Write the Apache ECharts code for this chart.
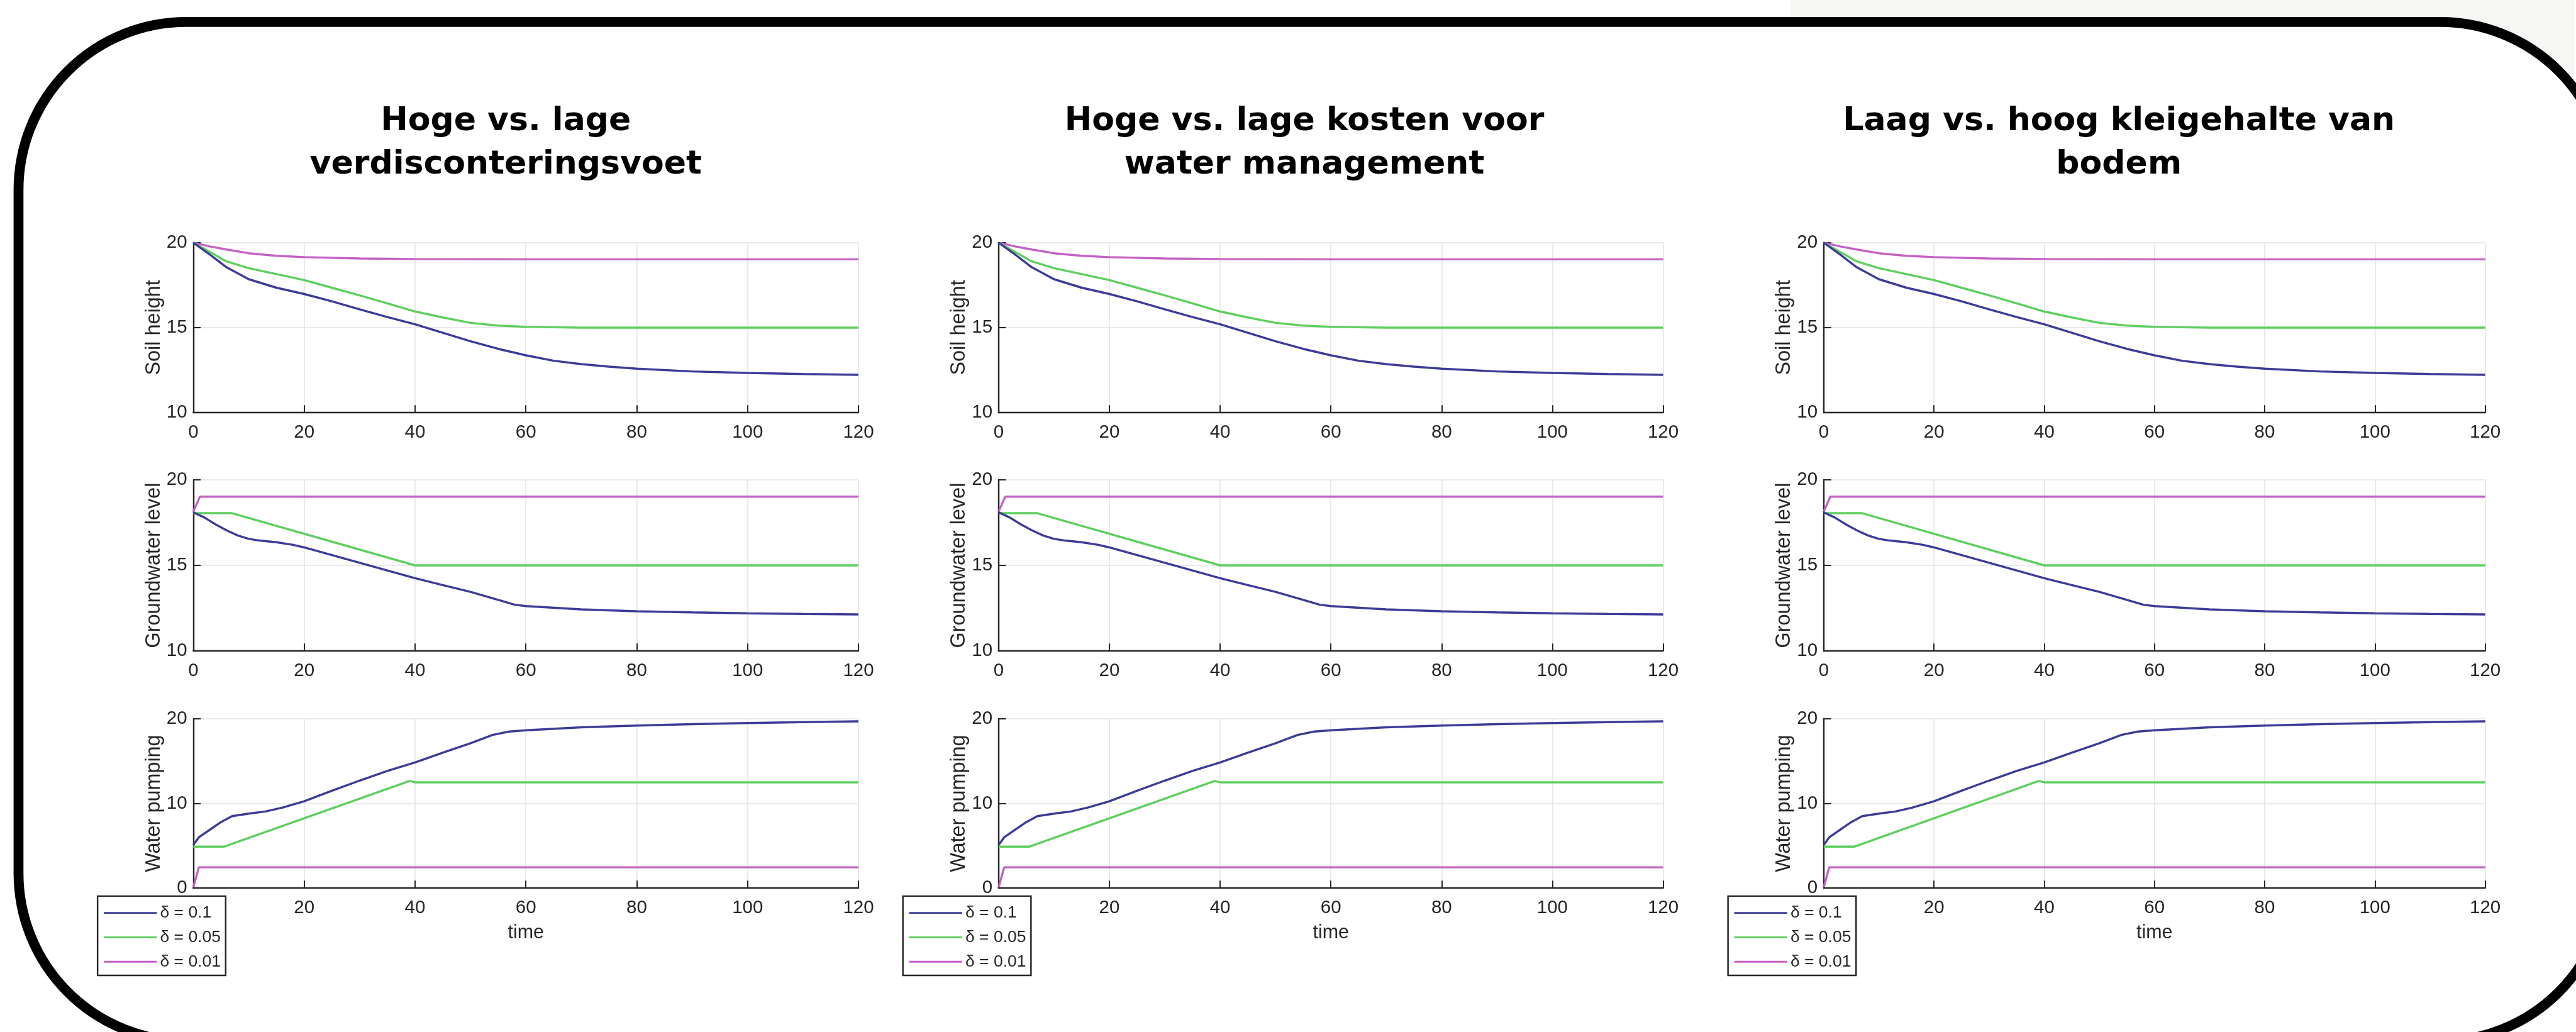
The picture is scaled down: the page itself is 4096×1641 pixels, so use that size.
<!DOCTYPE html>
<html>
<head>
<meta charset="utf-8">
<title>Bodemdaling scenario's</title>
<script src="https://cdn.jsdelivr.net/npm/echarts@6.0.0/dist/echarts.min.js"></script>
<style>
html, body { margin: 0; padding: 0; background: #fff; }
#echarts { width: 4096px; height: 1641px; }
</style>
</head>
<body>
<div id="echarts"></div>
<script>
// Namen van de reeksen (discontovoet)
var seriesNames = ['δ = 0.1', 'δ = 0.05', 'δ = 0.01'];
var seriesColors = ['#3c3c98', '#5fcf5f', '#c462c4'];

// Titels per paneel
var panelTitles = [
    'Hoge vs. lage\nverdisconteringsvoet',
    'Hoge vs. lage kosten voor\nwater management',
    'Laag vs. hoog kleigehalte van\nbodem'
];

// As-instellingen
var xTicks = [0, 120, 20];
var rowNames = ['Soil height', 'Groundwater level', 'Water pumping'];
var rowTicks = [[10, 20, 5], [10, 20, 5], [0, 20, 10]];

// Soil height [tijd, waarde]
var soilD01 = [[0, 20], [3, 19.3], [6, 18.55], [10, 17.85], [15, 17.35], [20, 16.98], [25, 16.55], [30, 16.08],
    [35, 15.62], [40, 15.2], [45, 14.7], [50, 14.2], [55, 13.75], [60, 13.37], [65, 13.05], [70, 12.85],
    [75, 12.7], [80, 12.58], [90, 12.42], [100, 12.33], [110, 12.27], [120, 12.22]];
var soilD005 = [[0, 20], [3, 19.45], [6, 18.9], [10, 18.5], [15, 18.15], [20, 17.8], [25, 17.35], [30, 16.9],
    [35, 16.43], [40, 15.95], [45, 15.6], [50, 15.28], [55, 15.12], [60, 15.05], [70, 15.0], [120, 15.0]];
var soilD001 = [[0, 20], [3, 19.78], [6, 19.6], [10, 19.38], [15, 19.23], [20, 19.15], [30, 19.07],
    [40, 19.04], [60, 19.02], [120, 19.02]];

// Groundwater level [tijd, waarde]
var gwD01 = [[0, 18.1], [2, 17.8], [4, 17.4], [6, 17.05], [8, 16.75], [10, 16.55], [12, 16.45], [15, 16.35],
    [18, 16.2], [20, 16.05], [25, 15.6], [30, 15.15], [35, 14.7], [40, 14.25], [45, 13.85], [50, 13.45],
    [55, 12.98], [58, 12.7], [60, 12.62], [70, 12.43], [80, 12.32], [90, 12.25], [100, 12.2], [110, 12.16], [120, 12.13]];
var gwD005 = [[0, 18.05], [7, 18.05], [40, 15.0], [120, 15.0]];
var gwD001 = [[0, 18.15], [1.2, 19.02], [120, 19.02]];

// Water pumping [tijd, waarde]
var pumpD01 = [[0, 5.1], [1, 6.0], [3, 6.9], [5, 7.8], [7, 8.5], [10, 8.8], [13, 9.05], [16, 9.5], [20, 10.25],
    [25, 11.5], [30, 12.7], [35, 13.85], [40, 14.85], [45, 16.0], [50, 17.12], [54, 18.1], [57, 18.5], [60, 18.65],
    [70, 19.0], [80, 19.2], [90, 19.37], [100, 19.5], [110, 19.62], [120, 19.7]];
var pumpD005 = [[0, 4.9], [5.6, 4.9], [39, 12.65], [40, 12.5], [120, 12.5]];
var pumpD001 = [[0, 0.1], [1, 2.45], [120, 2.45]];

var rowData = [
    [soilD01, soilD005, soilD001],
    [gwD01, gwD005, gwD001],
    [pumpD01, pumpD005, pumpD001]
];

// Inicializa o gráfico
var chart = echarts.init(document.getElementById('echarts'));

// alles op 0.982 van de referentie
var S = 0.982;
function px(v) { return v * S; }

var sans = "'Liberation Sans', Arial, sans-serif";
var ink = '#262626';

// plaats van de panelen (referentie-pixels)
var panels = [
    { left: 313, right: 1390, titleX: 819 },
    { left: 1617, right: 2693, titleX: 2112 },
    { left: 2953, right: 4024, titleX: 3431 }
];
var rows = [
    { top: 393, bottom: 668 },
    { top: 777, bottom: 1054 },
    { top: 1164, bottom: 1438 }
];

var grids = [], xAxes = [], yAxes = [], series = [], titles = [], legends = [];

panels.forEach(function (p, pi) {
    titles.push({
        text: panelTitles[pi],
        left: px(p.titleX),
        top: px(162),
        textAlign: 'center',
        padding: 0,
        textStyle: {
            fontFamily: "'DejaVu Sans', Verdana, sans-serif",
            fontWeight: 'bold',
            fontSize: px(53),
            lineHeight: px(70),
            color: '#000'
        }
    });

    legends.push({
        orient: 'vertical',
        left: px(p.left - 155),
        top: px(1451),
        data: seriesNames,
        icon: 'rect',
        itemWidth: px(86),
        itemHeight: px(3),
        itemGap: px(12),
        padding: [px(13.5), px(8), px(8.5), px(10)],
        backgroundColor: '#fff',
        borderColor: ink,
        borderWidth: px(2.5),
        borderRadius: 0,
        textStyle: { fontFamily: sans, fontSize: px(27), color: ink }
    });

    rows.forEach(function (r, ri) {
        var gi = grids.length;
        grids.push({
            left: px(p.left),
            top: px(r.top),
            width: px(p.right - p.left),
            height: px(r.bottom - r.top),
            containLabel: false,
            outerBoundsMode: 'none'
        });
        xAxes.push({
            type: 'value',
            gridIndex: gi,
            min: xTicks[0],
            max: xTicks[1],
            interval: xTicks[2],
            name: ri === 2 ? 'time' : '',
            nameLocation: 'middle',
            nameGap: px(58),
            nameTextStyle: { fontFamily: sans, fontSize: px(31), color: ink },
            axisLine: { show: true, onZero: false, lineStyle: { color: ink, width: px(2.5) } },
            axisTick: { show: true, inside: true, length: px(12), lineStyle: { color: ink, width: px(2) } },
            axisLabel: { margin: px(18), fontFamily: sans, fontSize: px(30), color: ink },
            splitLine: { show: true, lineStyle: { color: '#e3e3e3', width: px(1.6) } }
        });
        yAxes.push({
            type: 'value',
            gridIndex: gi,
            min: rowTicks[ri][0],
            max: rowTicks[ri][1],
            interval: rowTicks[ri][2],
            name: rowNames[ri],
            nameLocation: 'middle',
            nameRotate: 90,
            nameGap: px(20),
            nameTextStyle: { fontFamily: sans, fontSize: px(33), color: ink },
            axisLine: { show: true, onZero: false, lineStyle: { color: ink, width: px(2.5) } },
            axisTick: { show: true, inside: true, length: px(12), lineStyle: { color: ink, width: px(2) } },
            axisLabel: { margin: px(10), fontFamily: sans, fontSize: px(30), color: ink },
            splitLine: { show: true, lineStyle: { color: '#e3e3e3', width: px(1.6) } }
        });
        rowData[ri].forEach(function (d, si) {
            series.push({
                name: seriesNames[si],
                type: 'line',
                xAxisIndex: gi,
                yAxisIndex: gi,
                data: d,
                showSymbol: false,
                symbol: 'none',
                animation: false,
                color: seriesColors[si],
                lineStyle: { color: seriesColors[si], width: px(3.5) },
                z: 3 - si
            });
        });
    });
});

// achtergrond en afgeronde rand van de dia
var graphics = [
    {
        type: 'rect', z: -2, silent: true,
        shape: { x: px(2900), y: 0, width: px(1268), height: px(300) },
        style: { fill: '#f6f6f4' }
    },
    {
        type: 'rect', z: -1, silent: true,
        shape: { x: px(30), y: px(35.5), width: px(4193), height: px(1650.5), r: px(272) },
        style: { fill: '#ffffff', stroke: '#000000', lineWidth: px(16) }
    }
];

var options = {
    backgroundColor: '#ffffff',
    animation: false,
    title: titles,
    legend: legends,
    grid: grids,
    xAxis: xAxes,
    yAxis: yAxes,
    series: series,
    graphic: graphics
};

chart.setOption(options);
</script>
</body>
</html>
